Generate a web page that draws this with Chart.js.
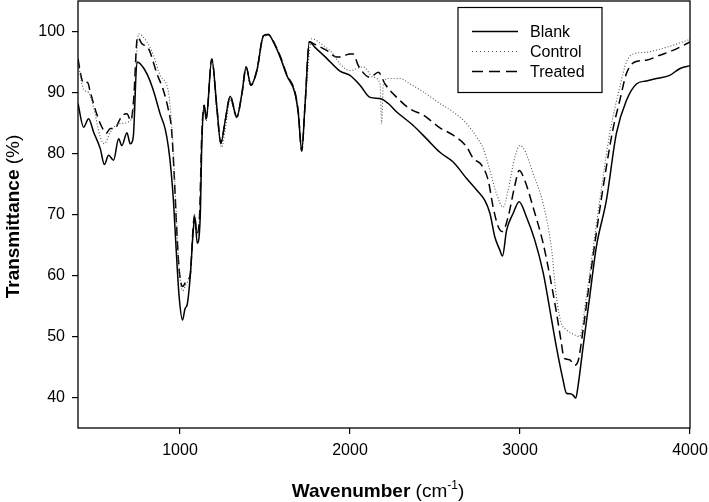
<!DOCTYPE html>
<html>
<head>
<meta charset="utf-8">
<script src="https://cdn.jsdelivr.net/npm/chart.js@4/dist/chart.umd.min.js"></script>
<style>
    html, body { margin: 0; padding: 0; background: #fff; }
    #wrap { width: 709px; height: 502px; }
</style>
</head>
<body>
<div id="wrap"><canvas id="chart" width="709" height="502"></canvas></div>
<script>
// Wavenumbers (cm-1) and transmittance (%)
const blankX = [400, 433, 462, 492, 531, 555, 580, 609, 639, 658, 688, 707, 725, 747, 766, 805, 844, 883, 913, 932, 948, 962, 978, 995, 1015, 1030, 1042, 1060, 1078, 1088, 1101, 1119, 1128, 1142, 1154, 1187, 1217, 1240, 1266, 1295, 1334, 1364, 1389, 1417, 1452, 1491, 1520, 1549, 1589, 1628, 1677, 1696, 1716, 1736, 1761, 1794, 1863, 1941, 2000, 2059, 2118, 2177, 2225, 2275, 2372, 2451, 2529, 2607, 2686, 2745, 2793, 2823, 2852, 2881, 2897, 2921, 2960, 2995, 3038, 3087, 3136, 3175, 3214, 3253, 3273, 3295, 3312, 3328, 3341, 3371, 3410, 3449, 3508, 3567, 3626, 3685, 3743, 3802, 3880, 3939, 4000];
const blankY = [88.2, 84.3, 85.7, 83.5, 80.8, 78.2, 79.7, 78.9, 82.4, 81.3, 83.4, 81.6, 82.7, 95.0, 94.7, 93.1, 90.3, 86.5, 84.0, 81.0, 77.0, 72.0, 64.0, 56.5, 52.7, 54.6, 55.2, 59.8, 67.4, 69.6, 65.3, 69.6, 81.1, 87.9, 85.7, 95.5, 87.6, 81.6, 85.4, 89.4, 86.0, 89.8, 94.2, 91.2, 93.6, 99.3, 99.5, 98.3, 95.8, 92.8, 89.8, 86.5, 80.5, 88.2, 98.3, 97.4, 95.6, 93.5, 92.8, 91.2, 89.2, 89.0, 88.2, 86.8, 84.6, 82.4, 80.2, 78.6, 75.9, 74.0, 72.3, 70.2, 66.3, 64.2, 63.2, 67.4, 70.2, 72.1, 69.6, 65.8, 60.5, 54.5, 48.3, 42.9, 40.7, 40.6, 40.4, 39.9, 41.8, 48.3, 56.5, 64.7, 72.3, 83.3, 88.7, 91.4, 91.9, 92.3, 92.8, 93.9, 94.4];

const controlX = [400, 433, 462, 492, 531, 555, 590, 619, 649, 697, 727, 756, 805, 844, 883, 932, 952, 965, 980, 995, 1015, 1040, 1060, 1076, 1085, 1099, 1115, 1128, 1142, 1154, 1187, 1217, 1245, 1266, 1295, 1334, 1364, 1389, 1417, 1452, 1491, 1520, 1549, 1589, 1628, 1677, 1696, 1716, 1736, 1775, 1843, 1902, 1941, 2000, 2078, 2137, 2177, 2186, 2196, 2225, 2294, 2353, 2431, 2529, 2607, 2686, 2745, 2784, 2823, 2862, 2901, 2930, 2970, 2999, 3028, 3077, 3136, 3185, 3214, 3243, 3273, 3312, 3351, 3390, 3429, 3469, 3528, 3587, 3626, 3665, 3743, 3861, 3978, 4000];
const controlY = [95.0, 90.5, 90.0, 87.5, 82.7, 81.6, 83.5, 84.5, 84.9, 85.2, 87.6, 99.6, 98.3, 96.1, 92.8, 90.1, 84.3, 78.0, 69.0, 61.0, 57.5, 58.8, 59.8, 67.0, 69.5, 66.5, 69.5, 84.0, 87.5, 85.3, 95.3, 86.5, 81.0, 84.0, 88.8, 85.8, 89.5, 93.8, 91.5, 93.3, 99.0, 99.4, 98.5, 96.0, 93.0, 90.0, 87.0, 80.3, 88.0, 98.8, 97.7, 96.3, 94.7, 93.6, 94.2, 92.5, 91.4, 84.9, 91.2, 92.3, 92.3, 91.4, 90.1, 88.2, 86.8, 84.9, 82.7, 80.8, 77.2, 73.4, 71.2, 74.0, 79.4, 81.3, 80.5, 76.7, 71.8, 64.5, 56.5, 52.2, 51.1, 50.4, 50.0, 56.5, 64.2, 72.3, 83.3, 90.9, 95.0, 96.3, 96.6, 97.4, 98.5, 98.7];

const treatedX = [400, 424, 440, 456, 472, 512, 541, 566, 590, 619, 639, 664, 688, 711, 727, 750, 776, 815, 864, 903, 932, 950, 965, 980, 995, 1015, 1040, 1060, 1076, 1085, 1099, 1115, 1128, 1142, 1154, 1187, 1217, 1240, 1266, 1295, 1334, 1364, 1389, 1417, 1452, 1491, 1520, 1549, 1589, 1628, 1677, 1696, 1716, 1736, 1761, 1785, 1863, 1922, 1941, 1971, 2000, 2019, 2049, 2118, 2167, 2206, 2275, 2353, 2431, 2529, 2607, 2686, 2725, 2774, 2813, 2842, 2872, 2897, 2930, 2970, 2995, 3028, 3077, 3136, 3175, 3214, 3243, 3260, 3292, 3320, 3341, 3371, 3410, 3449, 3508, 3547, 3587, 3626, 3675, 3743, 3821, 3900, 4000];
const treatedY = [95.5, 92.0, 91.5, 91.7, 90.1, 86.3, 84.3, 83.3, 84.1, 84.1, 85.2, 86.3, 86.5, 85.4, 88.7, 99.1, 98.0, 97.2, 93.1, 90.3, 87.1, 84.0, 77.0, 68.0, 61.0, 58.2, 59.2, 60.1, 67.4, 69.9, 66.9, 69.9, 83.0, 87.9, 85.7, 95.5, 87.4, 81.8, 85.4, 89.4, 86.0, 89.8, 94.2, 91.2, 93.6, 99.3, 99.5, 98.4, 96.0, 93.0, 90.0, 86.8, 80.4, 88.2, 98.3, 98.0, 96.9, 95.8, 95.8, 96.1, 96.3, 96.3, 94.4, 92.5, 93.3, 91.4, 89.2, 87.3, 86.3, 84.2, 83.0, 81.1, 79.2, 78.1, 75.6, 71.2, 68.0, 67.2, 69.6, 74.8, 77.2, 75.6, 71.2, 65.3, 60.0, 54.0, 49.0, 46.4, 46.2, 45.3, 45.9, 51.1, 59.2, 67.0, 77.8, 84.0, 88.7, 93.1, 95.0, 95.3, 96.1, 96.9, 98.3];

const seriesNames = ['Blank', 'Control', 'Treated'];
const xTicks = [1000, 2000, 3000, 4000];
const yTicks = [40, 50, 60, 70, 80, 90, 100];

const FONT = '"Liberation Sans", Arial, sans-serif';

const toPoints = (xs, ys) => xs.map((x, i) => ({ x, y: ys[i] }));

// Frame, legend box and the mixed bold / regular axis titles
const decorations = {
    id: 'decorations',
    afterDraw(chart) {
        const { ctx, chartArea: a } = chart;
        ctx.save();
        ctx.strokeStyle = '#000';
        ctx.lineWidth = 1.3;
        ctx.strokeRect(a.left, a.top, a.right - a.left, a.bottom - a.top);

        // legend
        ctx.lineWidth = 1.2;
        ctx.strokeRect(458, 7.5, 144, 85);
        ctx.font = '16px ' + FONT;
        ctx.fillStyle = '#000';
        ctx.textBaseline = 'middle';
        const rows = [31.5, 51.5, 71.5];
        chart.data.datasets.forEach((ds, i) => {
            ctx.beginPath();
            ctx.setLineDash(ds.legendDash);
            ctx.strokeStyle = ds.borderColor;
            ctx.lineWidth = ds.borderWidth;
            ctx.moveTo(472, rows[i]);
            ctx.lineTo(518, rows[i]);
            ctx.stroke();
            ctx.setLineDash([]);
            ctx.fillText(ds.label, 530, rows[i] + 1);
        });

        // x title: "Wavenumber (cm-1)"
        ctx.textBaseline = 'alphabetic';
        const bold = 'bold 19px ' + FONT, reg = '19px ' + FONT, sup = '12px ' + FONT;
        const parts = [[bold, 'Wavenumber', 0], [reg, ' (cm', 0], [sup, '-1', -8], [reg, ')', 0]];
        const widthOf = p => { ctx.font = p[0]; return ctx.measureText(p[1]).width; };
        let total = parts.reduce((s, p) => s + widthOf(p), 0);
        let x = (a.left + a.right) / 2 - 6 - total / 2;
        parts.forEach(p => {
            ctx.font = p[0];
            ctx.fillText(p[1], x, 497 + p[2]);
            x += ctx.measureText(p[1]).width;
        });

        // y title: "Transmittance (%)"
        const yParts = [[bold, 'Transmittance', 0], [reg, ' (%)', 0]];
        total = yParts.reduce((s, p) => s + widthOf(p), 0);
        ctx.translate(19, (a.top + a.bottom) / 2 + 2);
        ctx.rotate(-Math.PI / 2);
        x = -total / 2;
        yParts.forEach(p => {
            ctx.font = p[0];
            ctx.fillText(p[1], x, 0);
            x += ctx.measureText(p[1]).width;
        });
        ctx.restore();
    }
};

const axisGrid = { drawOnChartArea: false, drawTicks: true, tickLength: 6, color: '#000', lineWidth: 1.2 };
const tickFont = { family: FONT, size: 16 };

new Chart(document.getElementById('chart'), {
    type: 'line',
    data: {
        datasets: [
            { label: seriesNames[0], data: toPoints(blankX, blankY), borderColor: '#000', borderWidth: 1.5, borderDash: [], legendDash: [] },
            { label: seriesNames[1], data: toPoints(controlX, controlY), borderColor: '#555', borderWidth: 1.1, borderDash: [1, 2], legendDash: [1, 3] },
            { label: seriesNames[2], data: toPoints(treatedX, treatedY), borderColor: '#000', borderWidth: 1.5, borderDash: [9, 5], legendDash: [11, 6] }
        ]
    },
    options: {
        responsive: false,
        animation: false,
        events: [],
        layout: { padding: { left: 0, right: 19, top: 1, bottom: 0 } },
        elements: {
            point: { radius: 0 },
            line: { tension: 0, cubicInterpolationMode: 'monotone', fill: false }
        },
        plugins: { legend: { display: false }, tooltip: { enabled: false } },
        scales: {
            x: {
                type: 'linear',
                min: 400,
                max: 4000,
                afterBuildTicks: scale => { scale.ticks = xTicks.map(value => ({ value })); },
                // fixed height, and no extra room for the half-widths of the end labels
                afterFit: scale => { scale.height = 74; scale.paddingLeft = 0; scale.paddingRight = 0; },
                grid: axisGrid,
                border: { display: false },
                ticks: { color: '#000', font: tickFont, padding: 7, maxRotation: 0, callback: v => String(v) }
            },
            y: {
                type: 'linear',
                min: 35,
                max: 105,
                afterBuildTicks: scale => { scale.ticks = yTicks.map(value => ({ value })); },
                afterFit: scale => { scale.width = 78; scale.paddingTop = 0; scale.paddingBottom = 0; },
                grid: axisGrid,
                border: { display: false },
                ticks: { color: '#000', font: tickFont, padding: 7, callback: v => String(v) }
            }
        }
    },
    plugins: [decorations]
});
</script>
</body>
</html>
